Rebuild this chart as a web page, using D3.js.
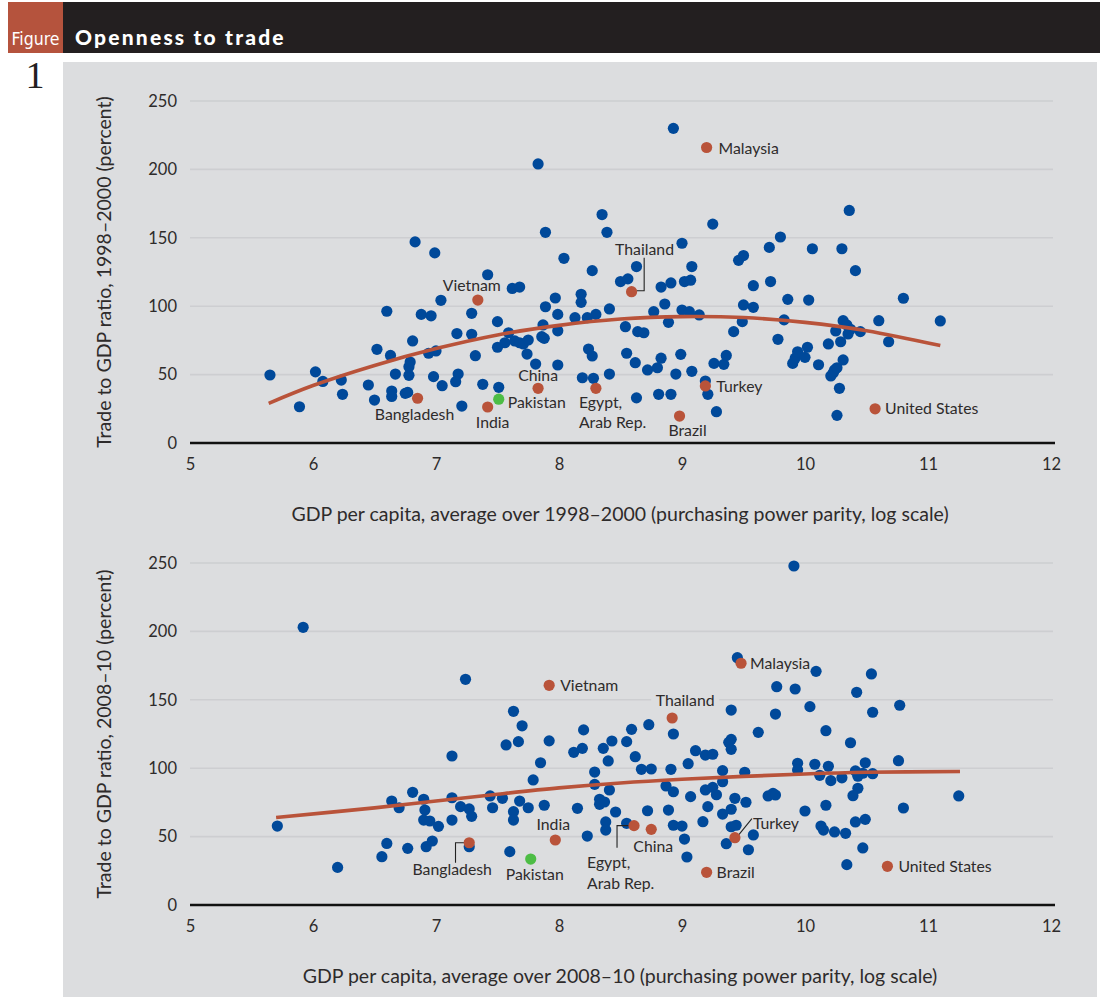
<!DOCTYPE html>
<html>
<head>
<meta charset="utf-8">
<script src="https://cdn.jsdelivr.net/npm/d3@7"></script>
<style>
  body { margin: 0; background: #fff; }
  svg text { font-family: Lato, "Open Sans", sans-serif; }
</style>
</head>
<body>
<div id="chart"></div>
<script>
// ---- data ----
var xTicks = [5, 6, 7, 8, 9, 10, 11, 12];
var yTicks = [0, 50, 100, 150, 200, 250];

// 1998-2000: [log GDP per capita, trade/GDP %]
var topPoints = [
  [7.83,204],[6.83,147],[6.99,139],[8.35,167],[7.89,154],[8.39,154],[8.04,135],[7.42,123],
  [8.27,126],[7.62,113],[7.68,114],[8.50,118],[8.56,120],[8.93,230],[9.25,160],[10.36,170],
  [9.00,146],[9.80,150.6],[9.71,143],[10.06,142],[10.30,142],[10.41,126],[9.46,133.5],[9.50,137],
  [9.08,129],[8.63,129],[8.83,114],[8.91,117],[9.02,118],[9.07,119],[9.58,115],[9.72,118],
  [5.65,49.7],[5.89,26.5],[6.02,52],[6.08,45],[6.23,46],[6.24,35.6],[6.45,42.4],[6.52,68.5],
  [6.50,31.4],[6.60,96.3],[6.63,64],[6.67,50.4],[6.64,38],[6.64,34],[6.75,36.3],[6.77,37],
  [6.78,49.5],[6.78,55.8],[6.79,59.2],[6.81,74.6],[6.88,94],[6.96,93],[6.94,65.6],[7.00,67.3],
  [6.98,48.5],[7.05,41.9],[7.04,104.3],[7.17,80],[7.18,50.4],[7.16,44.8],[7.21,27],[7.29,94.8],
  [7.29,79.5],[7.32,63.8],[7.38,42.9],[7.50,88.7],[7.50,70],[7.56,73.3],[7.51,40.7],[7.59,80.6],
  [7.64,74.6],[7.68,73.3],[7.71,72.4],[7.75,75.3],[7.74,65],[7.81,57.7],[7.86,77.7],[7.88,76.5],
  [7.87,86.3],[7.89,99.6],[7.97,106],[7.99,94],[7.99,82],[7.99,57],[8.13,91.6],[8.18,108.7],
  [8.18,102.8],[8.24,68.7],[8.27,63.6],[8.19,47.7],[8.28,47.3],[8.23,91.6],[8.30,94],[8.41,98],
  [8.41,50.4],[8.54,85],[8.55,65.6],[8.62,58.7],[8.63,33],[8.64,81.4],[8.69,80.6],[8.72,53.4],
  [8.77,96],[8.80,55],[8.81,35.6],[8.83,62],[8.86,101.6],[8.89,88.2],[8.91,35.6],[8.95,50.4],
  [8.99,64.8],[9.00,97.2],[9.06,96],[9.08,52.4],[9.14,93.6],[9.19,45.3],[9.21,35.6],[9.26,58.2],
  [9.28,22.9],[9.34,57.5],[9.36,64],[9.42,81.4],[9.49,88.7],[9.50,100.9],[9.58,99.2],[9.78,75.8],
  [9.83,90],[9.86,105],[9.90,58.2],[9.92,62],[9.94,66.7],[10.00,62.6],[10.02,70],[10.03,104.5],
  [10.11,57.2],[10.19,72.4],[10.21,49],[10.23,51.4],[10.24,53.4],[10.26,55],[10.26,20.2],[10.28,40],
  [10.29,74],[10.31,60.7],[10.25,81.9],[10.31,89.4],[10.34,86.3],[10.37,83.1],[10.35,79.7],[10.45,81.4],
  [10.60,89.4],[10.68,74],[10.80,105.8],[11.10,89.2]
];

// 2008-10
var bottomPoints = [
  [5.92,203],[7.24,165],[7.63,141.6],[7.70,131],[8.20,128],[9.91,247.8],[9.45,180.8],[10.09,170.8],
  [10.54,168.9],[9.77,159.6],[9.92,157.9],[10.42,155.5],[9.40,142.5],[9.76,139.6],[10.04,145],[10.55,140.9],
  [10.77,146],[8.73,131.8],[8.59,128.4],[5.71,57.7],[6.20,27.5],[6.56,35.3],[6.60,45],[6.64,76],
  [6.70,71.1],[6.77,41.4],[6.81,82.4],[6.90,77.3],[6.91,69.4],[6.90,62.1],[6.95,61.4],[6.92,42.6],
  [6.97,46.8],[7.02,57.5],[7.13,108.9],[7.13,78.4],[7.13,62.1],[7.20,71.9],[7.27,70.2],[7.29,64.8],
  [7.27,42.6],[7.44,79.7],[7.46,71.1],[7.54,78],[7.57,117],[7.67,119.4],[7.63,68.2],[7.63,62.1],
  [7.68,76],[7.75,71.1],[7.60,39],[7.79,91.4],[7.85,104],[7.88,72.9],[7.92,120],[8.12,111.6],
  [8.19,114.5],[8.15,70.7],[8.23,50.4],[8.29,97.2],[8.29,88.2],[8.33,77.3],[8.33,73.6],[8.37,75.3],
  [8.36,114.5],[8.40,105.3],[8.41,84.1],[8.43,119.9],[8.46,68],[8.38,60.7],[8.38,54.8],[8.55,59.7],
  [8.55,119.4],[8.62,108.4],[8.93,125],[9.62,126.2],[10.17,127.4],[10.37,118.6],[9.40,121.1],[9.38,118.9],
  [9.40,113.8],[9.11,112.8],[9.19,109.6],[9.25,110.2],[8.67,99.2],[8.75,99.4],[8.91,99.2],[9.05,103.3],
  [9.33,98.2],[9.51,97],[9.94,103.6],[9.94,98.7],[10.08,102.9],[10.19,101.4],[10.12,94.8],[10.21,90.9],
  [10.30,93],[10.41,98],[10.43,94.1],[10.47,96.3],[10.49,104],[10.55,96],[10.76,105.5],[10.43,85.3],
  [10.39,79.9],[11.25,79.7],[10.80,70.9],[10.17,72.9],[10.00,68.7],[9.70,79.7],[9.74,81.6],[9.76,80.4],
  [10.13,57.7],[10.15,54.8],[10.24,53.4],[10.33,52.4],[10.41,60.7],[10.49,62.6],[10.47,41.7],[10.34,29.5],
  [8.87,87],[8.93,82.8],[8.72,68.9],[8.89,69.4],[9.07,79.2],[9.19,84.1],[9.25,86],[9.28,80.6],
  [9.33,90.1],[9.21,71.9],[9.17,60.9],[9.33,66.5],[9.40,70],[9.43,78],[9.52,75.1],[8.93,58.3],
  [9.00,57.7],[9.02,48.2],[9.04,35.1],[9.40,57.2],[9.44,58.3],[9.36,44.8],[9.58,51.2],[9.54,40.4]
];

// named countries
var topNamed = [
  ["Malaysia", 9.20, 216], ["Thailand", 8.59, 110.6], ["Vietnam", 7.34, 104.5], ["China", 7.83, 40],
  ["Bangladesh", 6.85, 32.7], ["India", 7.42, 26.3], ["Egypt, Arab Rep.", 8.30, 40], ["Brazil", 8.98, 19.7],
  ["Turkey", 9.19, 41.7], ["United States", 10.57, 25], ["Pakistan", 7.51, 32]
];
var bottomNamed = [
  ["Vietnam", 7.92, 160.6], ["Malaysia", 9.48, 176.7], ["Thailand", 8.92, 136.7], ["India", 7.97, 47.5],
  ["Bangladesh", 7.27, 45.5], ["Egypt, Arab Rep.", 8.61, 58], ["China", 8.75, 55.3], ["Turkey", 9.43, 49.2],
  ["Brazil", 9.20, 23.9], ["United States", 10.67, 28.3], ["Pakistan", 7.77, 33.6]
];

// fitted trend lines, read at intervals along the curve
var topTrend = [[5.64,29],[6,42],[6.5,56.7],[7,69],[7.5,79],[8,86],[8.5,90.6],[9,92.4],[9.5,91.7],[10,88.2],[10.5,82.1],[11.1,71.2]];
var bottomTrend = [[5.7,64],[6.5,71],[7,76],[7.5,81],[8,85.6],[8.5,89.2],[9,91.9],[9.5,94],[10,95.8],[10.5,97],[11.26,97.6]];

var xTitles = [
  "GDP per capita, average over 1998\u20132000 (purchasing power parity, log scale)",
  "GDP per capita, average over 2008\u201310 (purchasing power parity, log scale)"
];
var yTitles = [
  "Trade to GDP ratio, 1998\u20132000 (percent)",
  "Trade to GDP ratio, 2008\u201310 (percent)"
];

// ---- page ----
var W = 1100, H = 997;
var blue = "#00499a", red = "#b9533a", green = "#4dbd45", ink = "#2e2b2b";

var svg = d3.select("#chart").append("svg")
  .attr("width", W)
  .attr("height", H);

// header band
svg.append("rect").attr("x", 63).attr("y", 2).attr("width", W - 63).attr("height", 51).attr("fill", "#231f20");
svg.append("rect").attr("x", 8).attr("y", 2).attr("width", 55).attr("height", 51).attr("fill", "#b5533d");
svg.append("text").attr("x", 35.5).attr("y", 45)
  .attr("text-anchor", "middle")
  .style("font-family", "'Liberation Sans Narrow', 'DejaVu Sans Condensed', sans-serif")
  .style("font-size", "17px").attr("fill", "#fff")
  .attr("textLength", 48).attr("lengthAdjust", "spacingAndGlyphs")
  .text("Figure");
svg.append("text").attr("x", 75).attr("y", 45)
  .style("font-size", "21px").style("font-weight", "900").style("letter-spacing", "2.2px")
  .attr("fill", "#fff")
  .text("Openness to trade");
svg.append("text").attr("x", 35).attr("y", 88)
  .attr("text-anchor", "middle")
  .style("font-family", "'Liberation Serif', serif")
  .style("font-size", "38px").attr("fill", "#231f20")
  .text("1");

// grey panel
svg.append("rect").attr("x", 63).attr("y", 62).attr("width", 1034).attr("height", H - 62).attr("fill", "#dcdddf");

var x = d3.scaleLinear().domain([5, 12]).range([190, 1051]);

var labelStyle = {
  top: {
    "Malaysia": { anchor: "start", dx: 12, dy: 1 },
    "Thailand": { anchor: "middle", dx: 13, dy: -42, leader: [[12.6, -34], [12.6, -1], [5, -1]] },
    "Vietnam": { anchor: "middle", dx: -6, dy: -15 },
    "China": { anchor: "middle", dx: 0, dy: -13 },
    "Pakistan": { anchor: "start", dx: 9, dy: 3 },
    "Bangladesh": { anchor: "middle", dx: -3, dy: 16 },
    "India": { anchor: "middle", dx: 5, dy: 15 },
    "Egypt, Arab Rep.": { anchor: "start", dx: -17, dy: 14 },
    "Turkey": { anchor: "start", dx: 11, dy: 1 },
    "Brazil": { anchor: "middle", dx: 8, dy: 14 },
    "United States": { anchor: "start", dx: 10, dy: 0 }
  },
  bottom: {
    "Vietnam": { anchor: "start", dx: 11, dy: 0 },
    "Malaysia": { anchor: "start", dx: 9, dy: 0 },
    "Thailand": { anchor: "middle", dx: 13, dy: -18, box: true },
    "India": { anchor: "middle", dx: -2, dy: -15.5 },
    "Bangladesh": { anchor: "middle", dx: -17, dy: 27, leader: [[-5, 0], [-13.7, 0], [-13.7, 20]] },
    "Pakistan": { anchor: "middle", dx: 4, dy: 15.5 },
    "Egypt, Arab Rep.": { anchor: "start", dx: -47, dy: 37, leader: [[-17, 22], [-17, 0], [-5, 0]] },
    "China": { anchor: "middle", dx: 2, dy: 17 },
    "Turkey": { anchor: "start", dx: 18, dy: -14.5, leader: [[4, -3], [17, -19]] },
    "Brazil": { anchor: "start", dx: 10, dy: 0 },
    "United States": { anchor: "start", dx: 11, dy: 0 }
  }
};

function drawPanel(pts, named, trend, yBottom, xTitle, yTitle, styles) {
  var y = d3.scaleLinear().domain([0, 250]).range([yBottom, yBottom - 342]);
  var g = svg.append("g");

  // gridlines
  g.selectAll("line.grid").data(yTicks.slice(1)).enter().append("line")
    .attr("x1", 190).attr("x2", 1053)
    .attr("y1", function(d) { return y(d); })
    .attr("y2", function(d) { return y(d); })
    .attr("stroke", "#cdced1").attr("stroke-width", 1.6);

  // axes
  var yAxis = g.append("g")
    .attr("transform", "translate(190,0)")
    .call(d3.axisLeft(y).tickValues(yTicks).tickSize(0).tickPadding(13));
  yAxis.select(".domain").remove();
  yAxis.selectAll("text").style("font-size", "16.5px").attr("fill", ink).style("font-family", "Lato, sans-serif");

  var xAxis = g.append("g")
    .attr("transform", "translate(0," + yBottom + ")")
    .call(d3.axisBottom(x).tickValues(xTicks).tickFormat(d3.format("d")).tickSize(0).tickPadding(15));
  xAxis.select(".domain").remove();
  xAxis.selectAll("text").style("font-size", "16.5px").attr("fill", ink).style("font-family", "Lato, sans-serif");

  g.append("line")
    .attr("x1", 190).attr("x2", 1055)
    .attr("y1", yBottom).attr("y2", yBottom)
    .attr("stroke", "#111").attr("stroke-width", 2.6);

  // titles
  g.append("text")
    .attr("x", 620).attr("y", yBottom + 78)
    .attr("text-anchor", "middle")
    .style("font-size", "19.5px").attr("fill", ink)
    .text(xTitle);
  g.append("text")
    .attr("transform", "translate(111," + (yBottom - 171) + ") rotate(-90)")
    .attr("text-anchor", "middle")
    .style("font-size", "19.5px").attr("fill", ink)
    .text(yTitle);

  // points
  g.selectAll("circle.pt").data(pts).enter().append("circle")
    .attr("cx", function(d) { return x(d[0]); })
    .attr("cy", function(d) { return y(d[1]); })
    .attr("r", 5.6)
    .attr("fill", blue);

  var line = d3.line()
    .x(function(d) { return x(d[0]); })
    .y(function(d) { return y(d[1]); })
    .curve(d3.curveCatmullRom);
  g.append("path").datum(trend)
    .attr("d", line)
    .attr("fill", "none")
    .attr("stroke", red)
    .attr("stroke-width", 3.6);

  // named countries
  named.forEach(function(d) {
    var cx = x(d[1]), cy = y(d[2]);
    var s = styles[d[0]];
    if (s.leader) {
      g.append("path")
        .attr("d", d3.line()(s.leader.map(function(p) { return [cx + p[0], cy + p[1]]; })))
        .attr("fill", "none").attr("stroke", "#222").attr("stroke-width", 1.1);
    }
    g.append("circle")
      .attr("cx", cx).attr("cy", cy).attr("r", 5.6)
      .attr("fill", d[0] === "Pakistan" ? green : red);

    var lines = d[0] === "Egypt, Arab Rep." ? ["Egypt,", "Arab Rep."] : [d[0]];
    if (s.box) {
      g.append("rect")
        .attr("x", cx + s.dx - 34).attr("y", cy + s.dy - 9)
        .attr("width", 68).attr("height", 18)
        .attr("fill", "#dcdddf");
    }
    lines.forEach(function(t, i) {
      g.append("text")
        .attr("x", cx + s.dx)
        .attr("y", cy + s.dy + i * 20.5)
        .attr("dy", "0.35em")
        .attr("text-anchor", s.anchor)
        .style("font-size", "15.8px")
        .attr("fill", ink)
        .text(t);
    });
  });
}

drawPanel(topPoints, topNamed, topTrend, 443, xTitles[0], yTitles[0], labelStyle.top);
drawPanel(bottomPoints, bottomNamed, bottomTrend, 905, xTitles[1], yTitles[1], labelStyle.bottom);
</script>
</body>
</html>
